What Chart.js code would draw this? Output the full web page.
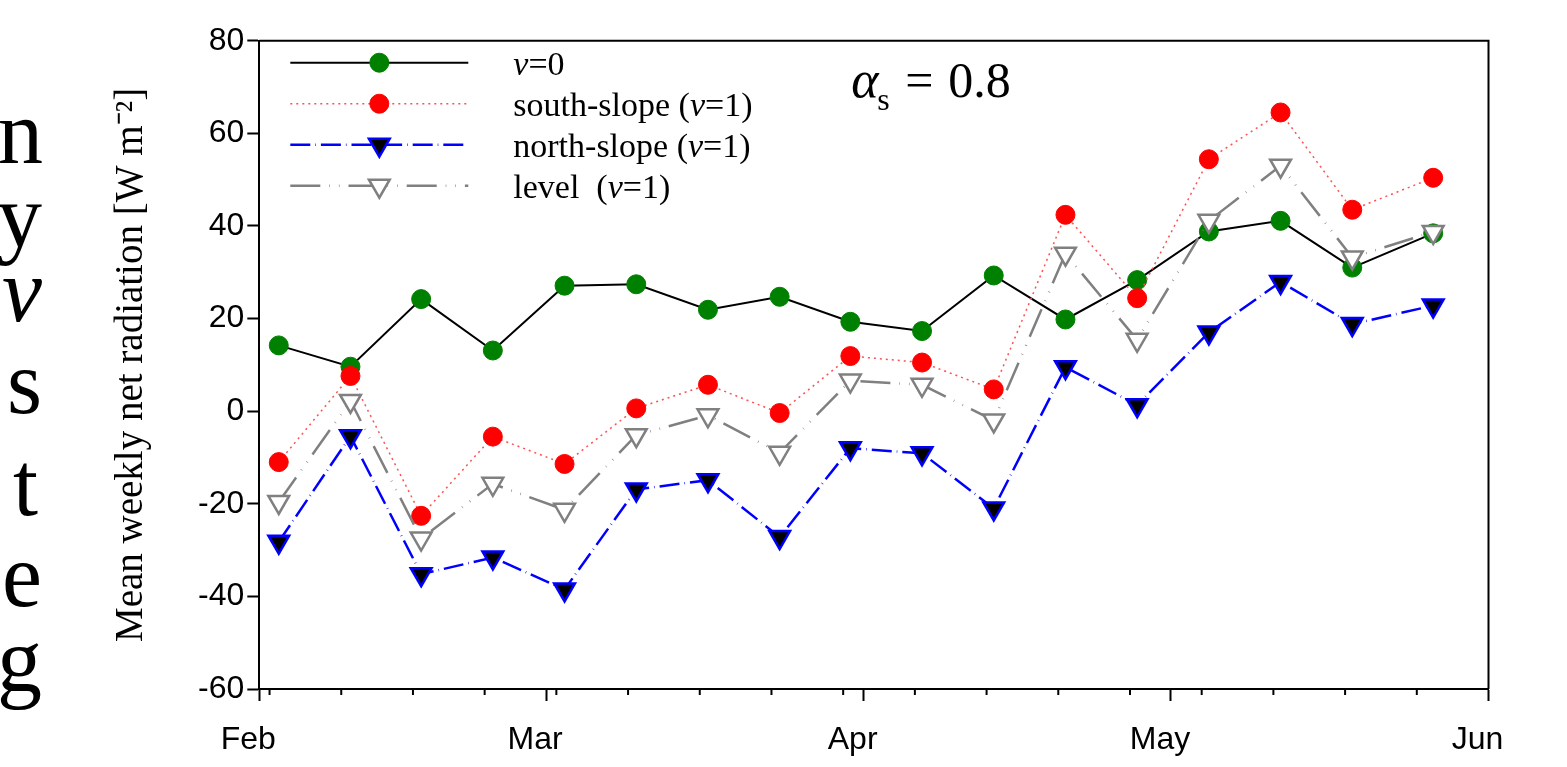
<!DOCTYPE html>
<html>
<head>
<meta charset="utf-8">
<script src="https://cdn.jsdelivr.net/npm/chart.js@4.4.0/dist/chart.umd.min.js"></script>
<style>
  html, body { margin: 0; padding: 0; background: #fff; overflow: hidden; }
  #wrap { position: relative; width: 1567px; height: 767px; overflow: hidden; }
  #chart { position: absolute; left: 0; top: 0; }
  .side { position: absolute; width: 200px; text-align: right;
          font-family: 'Liberation Serif', 'Times New Roman', serif; font-size: 90px; line-height: 90px; color: #000; }
</style>
</head>
<body>
<div id="wrap">
  <canvas id="chart" width="1567" height="767"></canvas>
  <div class="side" style="top:88px; left:-157px">n</div>
  <div class="side" style="top:172px; left:-158px">y</div>
  <div class="side" style="top:246px; left:-158px"><i>ν</i></div>
  <div class="side" style="top:338px; left:-158px">s</div>
  <div class="side" style="top:440px; left:-162px">t</div>
  <div class="side" style="top:531px; left:-158px">e</div>
  <div class="side" style="top:616px; left:-158px">g</div>
</div>
<script>
// days counted from 1 Feb
const weekDays = [1.9, 8.9, 15.8, 22.8, 29.8, 36.8, 43.8, 50.8, 57.7, 64.7, 71.7, 78.7, 85.7, 92.7, 99.7, 106.7, 114.6];
const flatV0 = [14.2, 9.6, 24.2, 13.1, 27.1, 27.4, 21.9, 24.7, 19.3, 17.3, 29.3, 19.8, 28.3, 38.8, 41.1, 31.0, 38.4];
const southSlope = [-11.0, 7.6, -22.6, -5.5, -11.4, 0.6, 5.7, -0.4, 11.9, 10.5, 4.7, 42.4, 24.4, 54.4, 64.5, 43.5, 50.4];
const northSlope = [-28.2, -5.4, -35.2, -31.6, -38.5, -16.9, -14.9, -27.2, -8.0, -9.1, -21.0, 9.5, 1.3, 17.0, 27.9, 18.8, 22.8];
const levelV1 = [-19.6, 2.2, -27.5, -15.7, -21.3, -5.2, -0.9, -9.0, 6.6, 5.7, -2.0, 34.0, 15.4, 41.1, 53.0, 33.2, 38.7];

const monthDays = [0, 28, 59, 89, 120];
const monthLabels = ['Feb', 'Mar', 'Apr', 'May', 'Jun'];
const weekTicks = [1, 8, 15, 22, 29, 36, 43, 50, 57, 64, 71, 78, 85, 92, 99, 106, 113];
const yTicks = [-60, -40, -20, 0, 20, 40, 60, 80];

const serif = "'Liberation Serif', 'Times New Roman', serif";
const sans = "'Liberation Sans', Arial, sans-serif";

const legendRows = [
  [['v', true], ['=0', false]],
  [['south-slope (', false], ['v', true], ['=1)', false]],
  [['north-slope (', false], ['v', true], ['=1)', false]],
  [['level  (', false], ['v', true], ['=1)', false]]
];

function pts(ys) {
  return ys.map((y, i) => ({x: weekDays[i], y: y}));
}

// frame, minor ticks, legend and the alpha label
const extras = {
  id: 'extras',
  afterDraw(chart) {
    const ctx = chart.ctx;
    const a = chart.chartArea;
    const xs = chart.scales.x;
    ctx.save();
    ctx.strokeStyle = '#000';
    ctx.lineWidth = 2;
    ctx.beginPath();
    ctx.moveTo(a.left, a.top);
    ctx.lineTo(a.right, a.top);
    ctx.lineTo(a.right, a.bottom);
    ctx.stroke();

    weekTicks.forEach(d => {
      const px = xs.getPixelForValue(d);
      ctx.beginPath();
      ctx.moveTo(px, a.bottom);
      ctx.lineTo(px, a.bottom + 6);
      ctx.stroke();
    });

    // legend
    chart.data.datasets.forEach((ds, i) => {
      const y = a.top + 22 + 41 * i;
      const x0 = a.left + 31, x1 = a.left + 209, xm = (x0 + x1) / 2;
      ctx.save();
      ctx.strokeStyle = ds.borderColor;
      ctx.lineWidth = ds.borderWidth;
      ctx.setLineDash(ds.borderDash || []);
      ctx.beginPath();
      ctx.moveTo(x0, y);
      ctx.lineTo(x1, y);
      ctx.stroke();
      ctx.setLineDash([]);
      ctx.fillStyle = ds.pointBackgroundColor;
      ctx.strokeStyle = ds.pointBorderColor;
      ctx.lineWidth = ds.pointBorderWidth;
      Chart.helpers.drawPoint(ctx, {
        pointStyle: ds.pointStyle, rotation: ds.pointRotation || 0,
        radius: ds.pointRadius, borderWidth: ds.pointBorderWidth
      }, xm, y);
      ctx.restore();

      let tx = a.left + 254;
      ctx.fillStyle = '#000';
      ctx.textBaseline = 'alphabetic';
      legendRows[i].forEach(([t, it]) => {
        ctx.font = (it ? 'italic ' : '') + '34px ' + serif;
        ctx.fillText(t, tx, y + 12);
        tx += ctx.measureText(t).width;
      });
    });

    // alpha_s = 0.8
    const ay = a.top + 56;
    ctx.font = 'italic 52px ' + serif;
    ctx.fillText('α', a.left + 592, ay);
    ctx.font = '32px ' + serif;
    ctx.fillText('s', a.left + 618, ay + 13);
    ctx.font = '50px ' + serif;
    ctx.fillText('=', a.left + 646, ay);
    ctx.fillText('0.8', a.left + 689, ay);
    ctx.restore();
  }
};

new Chart(document.getElementById('chart'), {
  type: 'line',
  data: {
    datasets: [
      {
        label: 'v=0', data: pts(flatV0), order: 4,
        borderColor: '#000000', borderWidth: 2,
        pointStyle: 'circle', pointRadius: 9.5, pointBorderWidth: 1,
        pointBackgroundColor: '#008000', pointBorderColor: '#008000'
      },
      {
        label: 'south-slope (v=1)', data: pts(southSlope), order: 3,
        borderColor: '#ff5050', borderWidth: 1.5, borderDash: [2, 4],
        pointStyle: 'circle', pointRadius: 9.5, pointBorderWidth: 1,
        pointBackgroundColor: '#ff0000', pointBorderColor: '#ff0000'
      },
      {
        label: 'north-slope (v=1)', data: pts(northSlope), order: 2,
        borderColor: '#0000ff', borderWidth: 2.5, borderDash: [20, 5, 0.6, 5],
        pointStyle: 'triangle', pointRotation: 180, pointRadius: 12, pointBorderWidth: 2.5,
        pointBackgroundColor: '#000000', pointBorderColor: '#0000ff'
      },
      {
        label: 'level  (v=1)', data: pts(levelV1), order: 1,
        borderColor: '#808080', borderWidth: 2.5, borderDash: [30, 9, 0.6, 9, 0.6, 9],
        pointStyle: 'triangle', pointRotation: 180, pointRadius: 12, pointBorderWidth: 2.5,
        pointBackgroundColor: '#ffffff', pointBorderColor: '#808080'
      }
    ]
  },
  options: {
    responsive: false,
    animation: false,
    events: [],
    layout: { padding: { left: 104, top: 40.7, right: 78.5, bottom: 0 } },
    elements: { line: { tension: 0 } },
    plugins: { legend: { display: false }, tooltip: { enabled: false } },
    scales: {
      x: {
        type: 'linear', min: 0, max: 120,
        afterBuildTicks: s => { s.ticks = monthDays.map(v => ({value: v})); },
        afterFit: s => { s.height = 78; },
        ticks: {
          callback: (v, i) => monthLabels[i],
          autoSkip: false, maxRotation: 0, labelOffset: -11, padding: 20,
          color: '#000', font: { family: sans, size: 32 }
        },
        grid: { drawOnChartArea: false, drawTicks: true, tickLength: 12, tickWidth: 2, tickColor: '#000' },
        border: { display: true, color: '#000', width: 2 }
      },
      y: {
        min: -60, max: 80,
        afterBuildTicks: s => { s.ticks = yTicks.map(v => ({value: v})); },
        afterFit: s => { s.width = 155.3; },
        ticks: { padding: 3, color: '#000', font: { family: sans, size: 32 } },
        grid: { drawOnChartArea: false, drawTicks: true, tickLength: 12, tickWidth: 2, tickColor: '#000' },
        border: { display: true, color: '#000', width: 2 },
        title: {
          display: true, text: 'Mean weekly net radiation [W m⁻²]', color: '#000',
          font: { family: serif, size: 39, lineHeight: 1 }, padding: { top: 8, bottom: 0 }
        }
      }
    }
  },
  plugins: [extras]
});
</script>
</body>
</html>
